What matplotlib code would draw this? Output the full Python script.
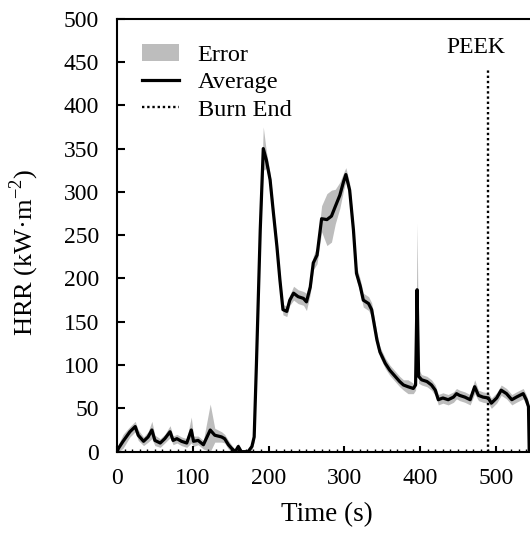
import numpy as np
import matplotlib
matplotlib.use("Agg")
import matplotlib.pyplot as plt
from matplotlib.patches import Patch
from matplotlib.lines import Line2D
from matplotlib.ticker import MultipleLocator

# time (s), average HRR (kW/m2) and half-width of the error band
time = [0, 2, 8, 17, 24, 28, 35, 41, 46, 50,
        57, 63, 70, 74, 79, 85, 92, 98, 101, 107,
        114, 123, 129, 138, 142, 147, 151, 156, 160, 164,
        173, 178, 181, 184, 189, 193, 197, 202, 206, 211,
        215, 219, 224, 228, 233, 239, 246, 250, 255, 259,
        264, 270, 277, 283, 288, 294, 299, 302, 307, 312,
        316, 321, 325, 332, 336, 343, 347, 354, 360, 369,
        373, 378, 384, 391, 394, 396, 398, 402, 409, 415,
        420, 424, 430, 437, 444, 448, 452, 459, 466, 472,
        477, 483, 490, 494, 501, 507, 514, 521, 527, 536,
        540, 543, 544]
hrr_avg = [0, 4, 12, 23, 29, 19, 12, 17, 25, 13,
           10, 15, 23, 13, 15, 12, 10, 25, 12, 13,
           8, 25, 19, 17, 15, 8, 4, 0, 6, 0,
           0, 6, 17, 102, 256, 350, 337, 314, 279, 237,
           198, 164, 162, 175, 183, 179, 177, 173, 190, 218,
           227, 269, 268, 272, 283, 296, 312, 320, 302, 256,
           206, 191, 175, 171, 164, 129, 115, 102, 94, 85,
           81, 77, 75, 73, 77, 187, 87, 83, 81, 77,
           71, 60, 62, 60, 63, 67, 65, 63, 60, 75,
           65, 63, 62, 56, 62, 71, 67, 60, 63, 67,
           60, 52, 0]
hrr_err = [2, 5, 8, 6, 6, 6, 5, 6, 10, 6,
           5, 5, 7, 5, 5, 5, 5, 15, 6, 5,
           5, 30, 8, 6, 5, 5, 4, 2, 4, 2,
           2, 4, 6, 8, 10, 25, 10, 8, 8, 8,
           8, 6, 6, 6, 8, 8, 8, 10, 8, 8,
           10, 15, 30, 30, 20, 15, 10, 8, 8, 8,
           8, 8, 8, 8, 8, 8, 6, 6, 6, 6,
           6, 6, 8, 6, 6, 77, 8, 6, 6, 6,
           6, 6, 6, 6, 6, 6, 6, 6, 6, 8,
           6, 6, 6, 6, 6, 6, 6, 6, 6, 6,
           6, 6, 0]

burn_end = 490
burn_end_top = 443
material = "PEEK"
label_pos = (474, 467)


def plot_hrr():
    plt.rcParams['font.family'] = ['Liberation Serif', 'DejaVu Serif']
    plt.rcParams['mathtext.fontset'] = 'custom'
    plt.rcParams['mathtext.rm'] = 'Liberation Serif'
    plt.rcParams['font.size'] = 17

    t = np.array(time)
    avg = np.array(hrr_avg)
    err = np.array(hrr_err)

    fig = plt.figure(figsize=(5.30, 5.37), dpi=100)
    ax = fig.add_axes([0.2208, 0.1589, 0.7792, 0.8063])

    ax.fill_between(t, np.clip(avg - err, 0, None), avg + err,
                    color='#bdbdbd', linewidth=0)
    ax.plot(t, avg, color='black', linewidth=2.3)
    ax.plot([burn_end, burn_end], [0, burn_end_top], color='black',
            linewidth=1.7, dashes=(1, 1.2))
    ax.text(label_pos[0], label_pos[1], material, ha='center', va='center', fontsize=17)

    ax.set_xlim(0, 545)
    ax.set_ylim(0, 500)
    ax.xaxis.set_major_locator(MultipleLocator(100))
    ax.xaxis.set_minor_locator(MultipleLocator(10))
    ax.yaxis.set_major_locator(MultipleLocator(50))
    ax.tick_params(axis='y', which='major', direction='in', length=6, width=1.5, pad=13)
    ax.tick_params(axis='x', which='major', direction='in', length=4.5, width=1.5, pad=12)
    ax.tick_params(axis='x', which='minor', direction='in', length=2, width=1)
    ax.spines['right'].set_visible(False)
    for s in ['left', 'bottom', 'top']:
        ax.spines[s].set_linewidth(1.5)

    ax.set_xlabel('Time (s)', fontsize=19.5, va='center')
    ax.set_ylabel('HRR (kW·m$^{-2}$)', fontsize=19, va='center')
    ax.xaxis.set_label_coords(0.507, -0.146)
    ax.yaxis.set_label_coords(-0.225, 0.46)

    handles = [Patch(facecolor='#bdbdbd', edgecolor='none'),
               Line2D([], [], color='black', linewidth=2.3),
               Line2D([], [], color='black', linewidth=1.7, dashes=(1, 1.2))]
    ax.legend(handles, ['Error', 'Average', 'Burn End'], loc='upper left',
              bbox_to_anchor=(0.06, 0.942), frameon=False, borderpad=0,
              borderaxespad=0, handlelength=1.52, handletextpad=0.78,
              labelspacing=0.22, fontsize=17.5)

    plt.savefig('out.png', dpi=100)


def main():
    plot_hrr()


if __name__ == "__main__":
    main()
